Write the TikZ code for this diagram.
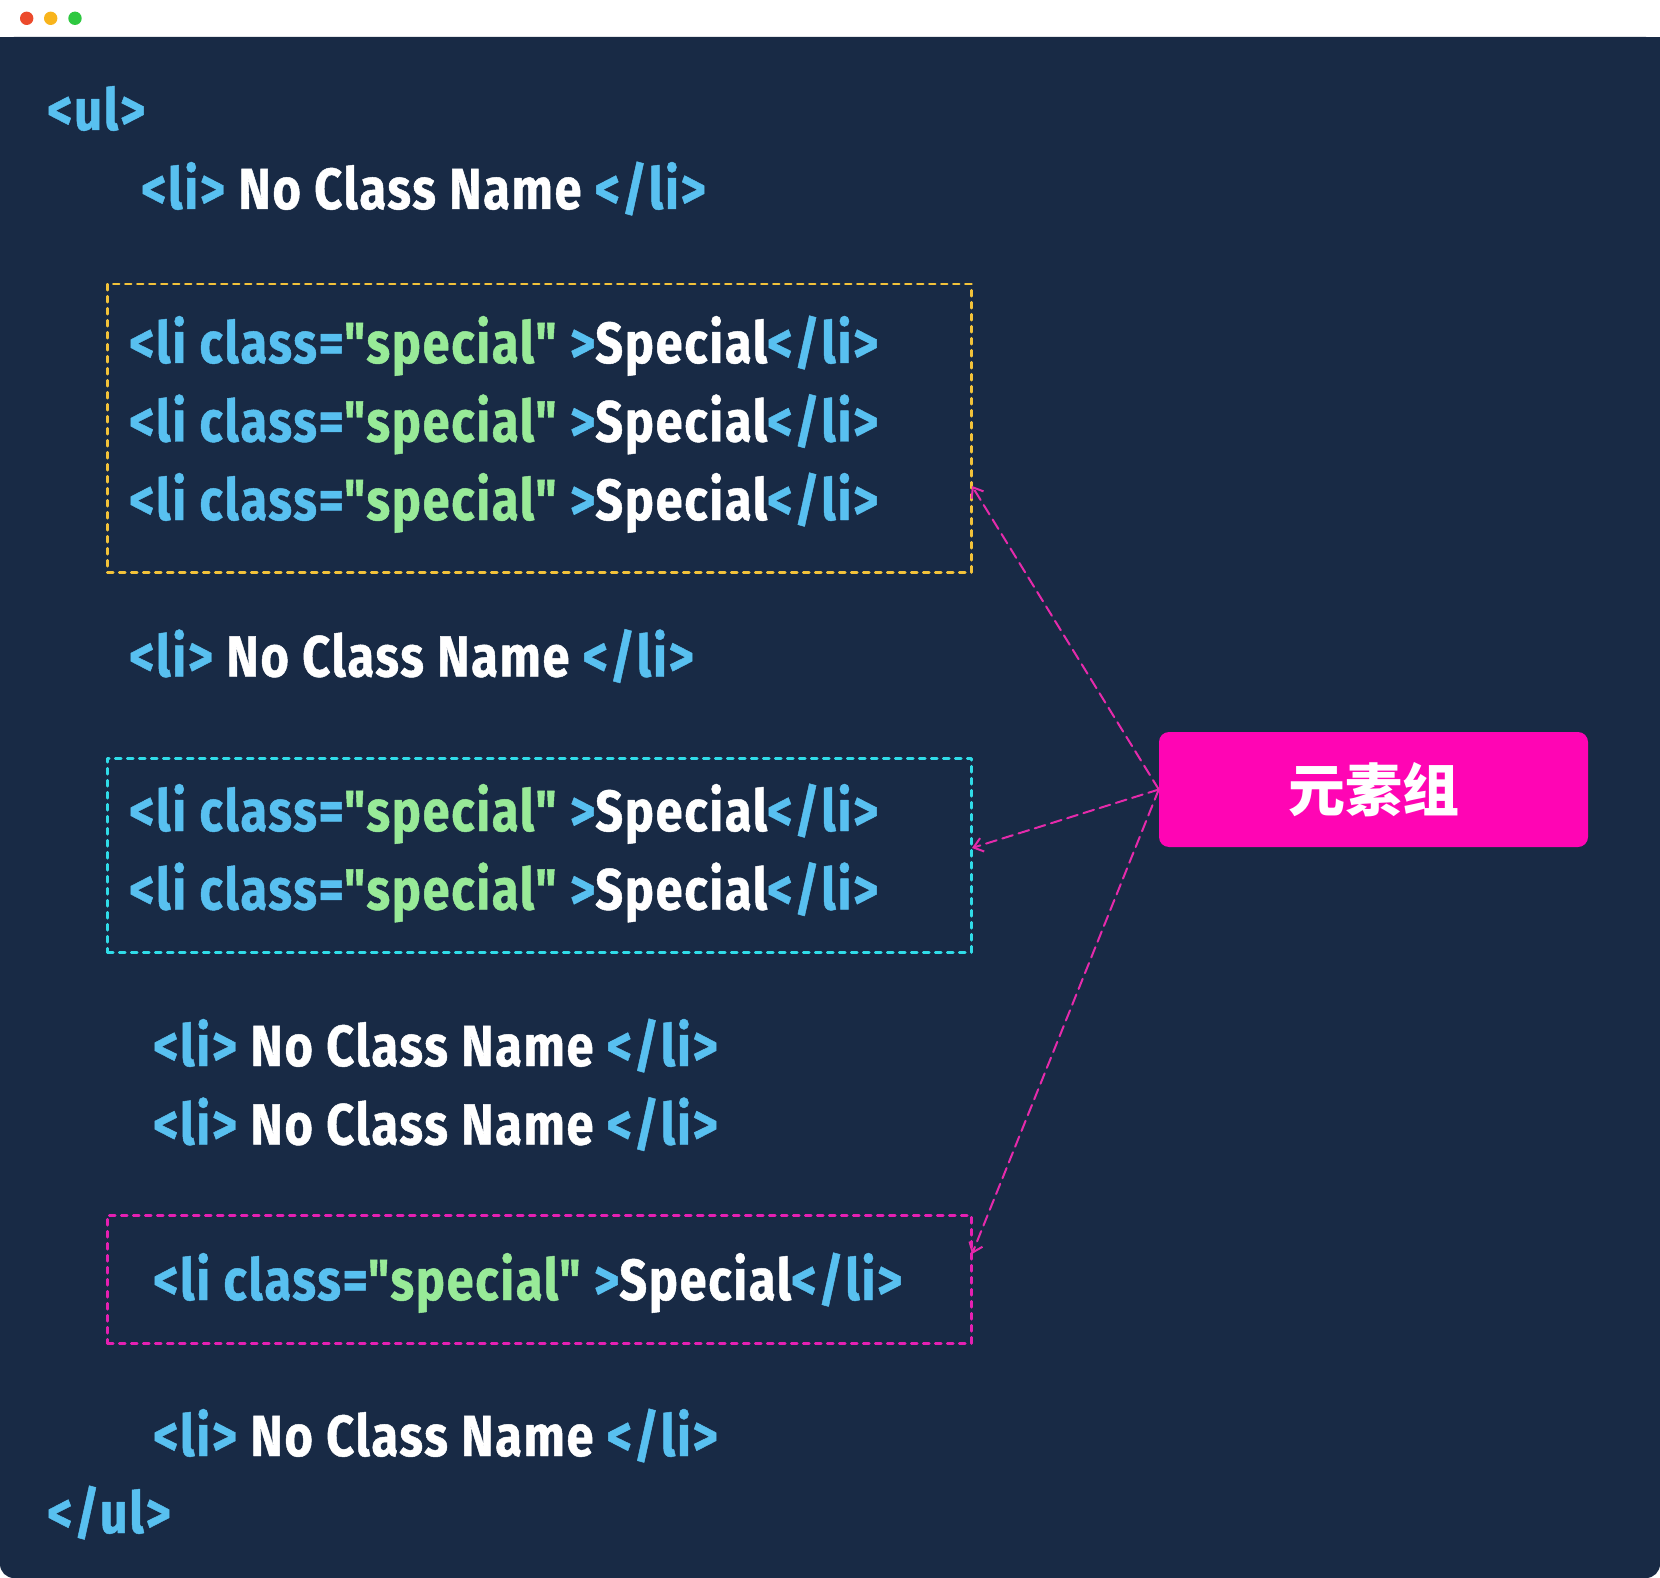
\documentclass[tikz,border=0pt]{standalone}
\usepackage{fontspec}
\newfontfamily\codefam{Fira Sans}[FakeStretch=0.84, LetterSpace=3, FakeBold=0.8]
\newfontfamily\cjkfont{Noto Sans CJK SC}
\usepackage{xcolor}
\usetikzlibrary{arrows.meta,positioning}
\definecolor{bgnavy}{HTML}{182A45}
\definecolor{tagblue}{HTML}{58C0F0}
\definecolor{strgreen}{HTML}{98EA98}
\definecolor{grppink}{HTML}{FF05B4}
\definecolor{linkpink}{HTML}{E52AAB}
\definecolor{boxyellow}{HTML}{F2C23A}
\definecolor{boxcyan}{HTML}{30DCE8}
\definecolor{boxpink}{HTML}{E420B2}
\definecolor{dotred}{HTML}{EC4A2C}
\definecolor{dotyellow}{HTML}{F8B41C}
\definecolor{dotgreen}{HTML}{2EC840}
\newcommand{\codefont}{\codefam\fontsize{58}{70}\selectfont\bfseries}
\newcommand{\plainli}{\textcolor{tagblue}{<li>} No Class Name \textcolor{tagblue}{</li>}}
\newcommand{\specialli}{\textcolor{tagblue}{<li class=}\textcolor{strgreen}{"special"}\ \textcolor{tagblue}{>}Special\textcolor{tagblue}{</li>}}
\tikzset{
  code/.style={anchor=base west, inner sep=0pt, text=white, font=\codefont},
  groupbox/.style={draw=#1, line width=2.5pt, dash pattern=on 6pt off 6pt, anchor=north west, minimum width=864pt},
  grouplabel/.style={fill=grppink, rounded corners=10pt, minimum width=429pt, minimum height=115pt, text=white, font=\cjkfont\bfseries\fontsize{57}{60}\selectfont},
  link/.style={draw=linkpink, line width=2pt, dash pattern=on 11pt off 6pt, -{Straight Barb[length=9pt,width=14pt]}}
}
\begin{document}
\begin{tikzpicture}[x=1pt, y=-1pt, line join = round, line cap = round]
                \useasboundingbox (0,0) rectangle (1660,1578);
                \fill[white] (0,0) rectangle (1660,1578);
                \fill[bgnavy, rounded corners=14pt] (0,37) -- (0,1578) -- (1660,1578) -- (1660,37) -- cycle;
                \fill[bgnavy] (0,37) rectangle (1660,100);
                \fill[dotred] (26.7,18.3) circle [radius=6.7];
                \fill[dotyellow] (50.7,18.3) circle [radius=6.7];
                \fill[dotgreen] (75,18.3) circle [radius=6.7];
                \node[groupbox=boxyellow, minimum height=288pt] (grpA) at (106,283) {};
                \node[groupbox=boxcyan, minimum height=194pt] (grpB) at (106,757) {};
                \node[groupbox=boxpink, minimum height=128pt] (grpC) at (106,1214) {};
                \node[code] (ulopen) at (47,130) {\textcolor{tagblue}{<ul>}};
                \node[code] (plainA) at (141,209) {\plainli};
                \node[code] (specA) at (129,363) {\specialli};
                \node[code] (specB) at (129,441.5) {\specialli};
                \node[code] (specC) at (129,520) {\specialli};
                \node[code] (plainB) at (129,676.5) {\plainli};
                \node[code] (specD) at (129,831) {\specialli};
                \node[code] (specE) at (129,909.5) {\specialli};
                \node[code] (plainC) at (153,1066) {\plainli};
                \node[code] (plainD) at (153,1144.5) {\plainli};
                \node[code] (specF) at (153,1300) {\specialli};
                \node[code] (plainE) at (153,1456) {\plainli};
                \node[code] (ulclose) at (47,1533) {\textcolor{tagblue}{</ul>}};
                \node[grouplabel] (elemgroup) at (1373.5,789.5) {元素组};
                \coordinate (tipA) at (972,486);
                \coordinate (tipB) at (972,848);
                \coordinate (tipC) at (972,1254);
                \draw[link] (elemgroup.west) -- (tipA);
                \draw[link] (elemgroup.west) -- (tipB);
                \draw[link] (elemgroup.west) -- (tipC);
              \end{tikzpicture}
\end{document}
